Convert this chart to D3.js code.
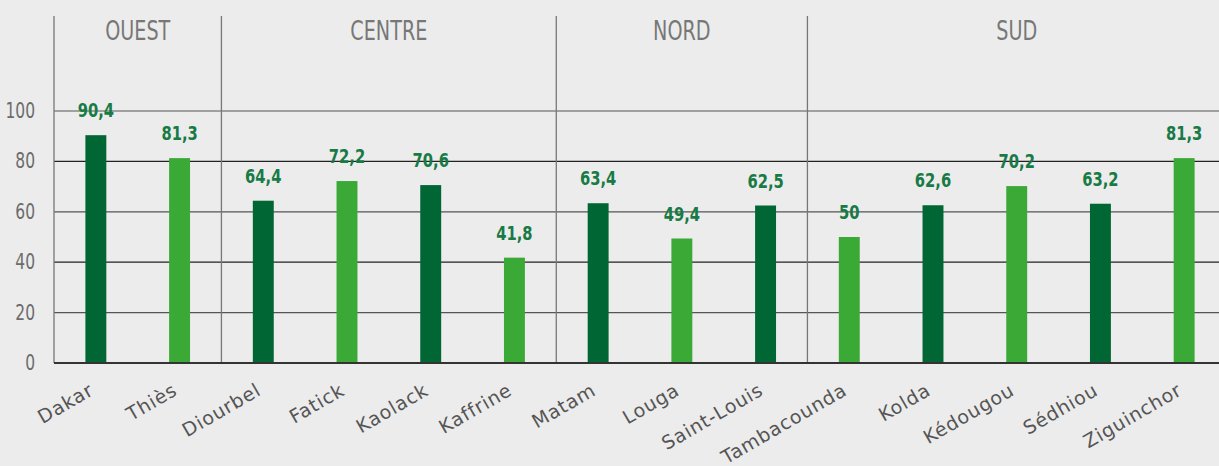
<!DOCTYPE html>
<html lang="fr">
<head>
    <meta charset="UTF-8">
    <title>Regions</title>
    <style>
        body { margin: 0; background: #ececec; }
    </style>
</head>
<body>
<script src="https://cdn.jsdelivr.net/npm/d3@7"></script>
<script>
    let width = 1219;
    let height = 466;
    let regions = ["Dakar","Thiès","Diourbel","Fatick","Kaolack","Kaffrine","Matam","Louga","Saint-Louis","Tambacounda","Kolda","Kédougou","Sédhiou","Ziguinchor"];
    let values = [90.4,81.3,64.4,72.2,70.6,41.8,63.4,49.4,62.5,50,62.6,70.2,63.2,81.3];
    let zones = ["OUEST","CENTRE","NORD","SUD"];
    let zoneStart = [0,2,6,9];
    let yTicks = [0,20,40,60,80,100];

    // no narrow font installed, so squeeze the condensed one a bit
    let fontNarrow = "'DejaVu Sans Condensed',sans-serif";
    let squeeze = 0.82;
    let plotTop = 16, plotBottom = 363, plotLeft = 54;

    let svg = d3.select("body").append("svg")
        .attr("width",width)
        .attr("height",height)
        .style("background","#ececec");

    let x = d3.scaleBand().domain(regions).range([plotLeft,1226]).paddingInner(0.75).paddingOuter(0.375);
    let y = d3.scaleLinear().domain([0,100]).range([plotBottom,111]);
    let mid = d => x(d) + x.bandwidth()/2;

    // horizontal grid
    svg.append("g").selectAll("line")
        .data(yTicks.slice(1))
        .enter()
        .append("line")
        .attr("x1",plotLeft).attr("x2",width)
        .attr("y1",d => y(d)).attr("y2",d => y(d))
        .attr("stroke",(d,i) => i % 2 ? "#222" : "#555")
        .attr("stroke-width",1.2);

    // y tick labels
    svg.append("g").selectAll("text")
        .data(yTicks)
        .enter()
        .append("text")
        .attr("transform",d => "translate(35," + (y(d) + 7) + ") scale(" + squeeze + ",1)")
        .attr("text-anchor","end")
        .attr("fill","#6b6b6b")
        .style("font-family",fontNarrow)
        .style("font-size","21px")
        .text(d => d);

    // vertical separators, halfway between the bars on each side
    let sepX = [plotLeft].concat(zoneStart.slice(1).map(i => (mid(regions[i-1]) + mid(regions[i])) / 2));
    svg.append("g").selectAll("line")
        .data(sepX)
        .enter()
        .append("line")
        .attr("x1",d => d).attr("x2",d => d)
        .attr("y1",plotTop).attr("y2",plotBottom)
        .attr("stroke","#777")
        .attr("stroke-width",1.3);

    // zone titles
    svg.append("g").selectAll("text")
        .data(zones)
        .enter()
        .append("text")
        .attr("transform",(d,i) => {
            let a = sepX[i];
            let b = i < zones.length - 1 ? sepX[i+1] : 1226;
            return "translate(" + ((a + b) / 2) + ",40) scale(" + squeeze + ",1)";
        })
        .attr("text-anchor","middle")
        .attr("fill","#777")
        .style("font-family",fontNarrow)
        .style("font-size","26px")
        .text(d => d);

    // bars
    svg.append("g").selectAll("rect")
        .data(values)
        .enter()
        .append("rect")
        .attr("x",(d,i) => x(regions[i]))
        .attr("y",d => y(d))
        .attr("width",x.bandwidth())
        .attr("height",d => plotBottom - y(d))
        .attr("fill",(d,i) => i % 2 ? "#3aa935" : "#006633");

    // baseline
    svg.append("line")
        .attr("x1",plotLeft).attr("x2",width)
        .attr("y1",plotBottom).attr("y2",plotBottom)
        .attr("stroke","#333")
        .attr("stroke-width",2);

    // value labels
    svg.append("g").selectAll("text")
        .data(values)
        .enter()
        .append("text")
        .attr("transform",(d,i) => "translate(" + mid(regions[i]) + "," + (y(d) - 18) + ") scale(" + squeeze + ",1)")
        .attr("text-anchor","middle")
        .attr("fill","#187a45")
        .style("font-family",fontNarrow)
        .style("font-weight","bold")
        .style("font-size","20px")
        .text(d => String(d).replace(".",","));

    // x labels
    svg.append("g").selectAll("text")
        .data(regions)
        .enter()
        .append("text")
        .attr("transform",d => "translate(" + (mid(d) - 1) + ",394) rotate(-30)")
        .attr("text-anchor","end")
        .attr("fill","#555")
        .style("font-family","'DejaVu Sans',Verdana,sans-serif")
        .style("font-size","19px")
        .style("letter-spacing","0.8px")
        .text(d => d);
</script>
</body>
</html>
